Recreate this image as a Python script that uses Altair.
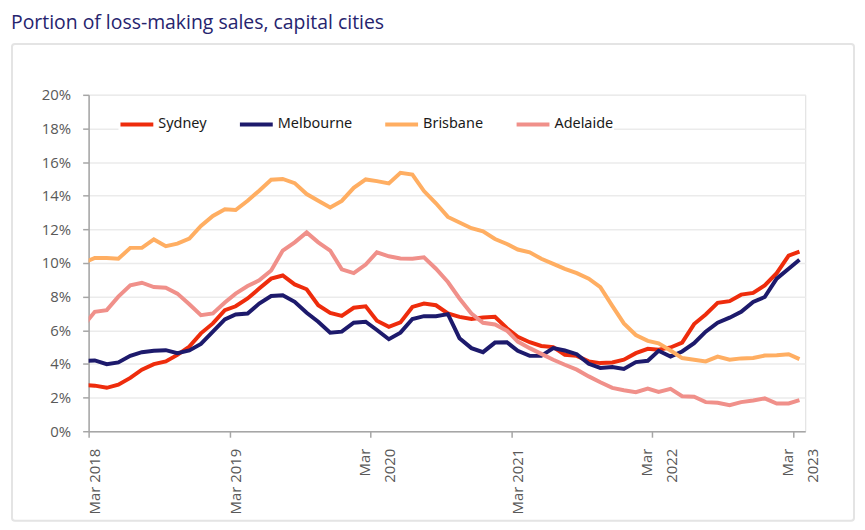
import altair as alt
import pandas as pd

# Monthly observations (first one, Feb 2018, lies left of the axis start and is clipped)
months = pd.date_range("2018-02-01", "2023-03-01", freq="MS")
dates = [(m + pd.Timedelta(days=16)).strftime("%Y-%m-%d") for m in months]

cities = ["Sydney", "Melbourne", "Brisbane", "Adelaide"]
colors = ["#EE2C0C", "#1D1A6C", "#FFAE62", "#F0908A"]

sydney = [2.75, 2.71, 2.58, 2.77, 3.17, 3.66, 3.99, 4.15, 4.54, 5.03, 5.82, 6.41, 7.2,
          7.43, 7.89, 8.48, 9.07, 9.26, 8.73, 8.44, 7.49, 7.04, 6.86, 7.34, 7.43, 6.57,
          6.21, 6.47, 7.39, 7.59, 7.49, 7.0, 6.8, 6.67, 6.76, 6.8, 6.12, 5.62, 5.29,
          5.07, 5.0, 4.55, 4.48, 4.15, 4.05, 4.09, 4.25, 4.64, 4.9, 4.84, 4.98, 5.27,
          6.37, 6.94, 7.63, 7.73, 8.12, 8.22, 8.67, 9.4, 10.44, 10.68]
melbourne = [4.17, 4.21, 3.99, 4.09, 4.48, 4.7, 4.78, 4.82, 4.64, 4.8, 5.19, 5.92, 6.65,
             6.94, 7.0, 7.59, 8.04, 8.08, 7.69, 7.04, 6.51, 5.86, 5.92, 6.45, 6.51, 6.02,
             5.47, 5.86, 6.67, 6.84, 6.84, 6.96, 5.53, 4.94, 4.7, 5.27, 5.29, 4.78, 4.48,
             4.48, 4.94, 4.8, 4.58, 4.01, 3.76, 3.82, 3.7, 4.11, 4.19, 4.78, 4.44, 4.74,
             5.23, 5.92, 6.45, 6.75, 7.1, 7.69, 7.98, 9.07, 9.66, 10.19]
brisbane = [10.03, 10.3, 10.3, 10.25, 10.9, 10.9, 11.4, 11.0, 11.15, 11.45, 12.2, 12.8, 13.2,
            13.15, 13.7, 14.3, 14.95, 15.0, 14.75, 14.1, 13.7, 13.3, 13.69, 14.47, 14.97, 14.87,
            14.73, 15.36, 15.26, 14.28, 13.55, 12.74, 12.41, 12.07, 11.88, 11.43, 11.13, 10.8, 10.64,
            10.25, 9.95, 9.65, 9.4, 9.07, 8.57, 7.45, 6.41, 5.72, 5.37, 5.23, 4.8, 4.35,
            4.25, 4.15, 4.44, 4.25, 4.33, 4.35, 4.5, 4.52, 4.58, 4.29]
adelaide = [6.32, 7.1, 7.2, 8.0, 8.67, 8.83, 8.57, 8.53, 8.18, 7.55, 6.9, 7.0, 7.65,
            8.18, 8.63, 8.97, 9.56, 10.74, 11.23, 11.82, 11.23, 10.74, 9.62, 9.4, 9.91, 10.64,
            10.4, 10.27, 10.25, 10.34, 9.66, 8.87, 7.89, 7.0, 6.45, 6.35, 5.98, 5.33, 4.94,
            4.6, 4.25, 3.95, 3.66, 3.26, 2.91, 2.58, 2.44, 2.32, 2.54, 2.34, 2.52, 2.08,
            2.05, 1.73, 1.69, 1.55, 1.73, 1.83, 1.95, 1.65, 1.65, 1.85]

y_ticks = list(range(0, 21, 2))
x_tick_years = [2018, 2019, 2020, 2021, 2022, 2023]

rows = []
for city, vals in zip(cities, [sydney, melbourne, brisbane, adelaide]):
    for d, v in zip(dates, vals):
        rows.append({"date": d, "city": city, "value": v})
df = pd.DataFrame(rows)

font_axis = "Open Sans"
label_grey = "#595959"
axis_grey = "#a6a6a6"

x_values = [alt.DateTime(year=y, month=3, date=1, utc=True) for y in x_tick_years]
x_domain = [alt.DateTime(year=2018, month=3, date=1, utc=True),
            alt.DateTime(year=2023, month=4, date=1, utc=True)]

two_line_test = "utcyear(datum.value) == 2020 || utcyear(datum.value) >= 2022"
label_expr = ("(" + two_line_test + ") ? "
              "['Mar', '' + utcyear(datum.value)] : 'Mar ' + utcyear(datum.value)")

frame = alt.Chart(alt.Data(values=[{}])).mark_rect(
    fillOpacity=0, stroke="#e4e4e4", strokeWidth=2, cornerRadius=3
).encode(
    x=alt.value(-77), x2=alt.value(769), y=alt.value(-51), y2=alt.value(428)
)

lines = alt.Chart(df).mark_line(strokeWidth=4, clip=True).encode(
    x=alt.X("date:T",
            scale=alt.Scale(type="utc", domain=x_domain),
            axis=alt.Axis(values=x_values, labelExpr=label_expr, labelAngle=270,
                          title=None, grid=False, tickSize=6, tickColor=axis_grey,
                          domainColor=axis_grey, domainWidth=1.5, tickWidth=1.5,
                          labelOffset={"condition": {"test": two_line_test, "value": -6},
                                       "value": 6},
                          labelPadding=11, labelFont=font_axis,
                          labelFontSize=15, labelColor=label_grey, labelLineHeight=25)),
    y=alt.Y("value:Q",
            scale=alt.Scale(domain=[0, 20]),
            axis=alt.Axis(values=y_ticks, labelExpr="datum.value + '%'", title=None,
                          grid=True, gridColor="#ebebeb", gridWidth=1.5,
                          tickSize=6, tickColor=axis_grey, tickWidth=1.5,
                          domainColor=axis_grey, domainWidth=1.5,
                          labelPadding=12, labelFont=font_axis, labelFontSize=15,
                          labelColor=label_grey)),
    color=alt.Color("city:N",
                    scale=alt.Scale(domain=cities, range=colors),
                    legend=alt.Legend(title=None, orient="none", legendX=30, legendY=11,
                                      direction="horizontal", symbolType="stroke",
                                      symbolSize=1089, symbolStrokeWidth=4,
                                      labelOffset=3, columnPadding=25, padding=0,
                                      labelFont="Noto Sans", labelFontSize=14.5,
                                      labelColor="#1a1a1a", fillColor="white")),
)

chart = alt.layer(frame, lines).properties(
    width=720, height=338,
    autosize=alt.AutoSizeParams(type="none"),
    padding={"left": 81, "top": 86, "right": 52, "bottom": 95},
    title=alt.TitleParams(text="Portion of loss-making sales, capital cities",
                          anchor="start", font="Open Sans", fontSize=19.5,
                          fontWeight="normal", color="#26246e", dy=-6),
).configure_view(stroke=None).configure(background="white")

chart.save("out.html", embed_options={"renderer": "svg", "actions": False})
